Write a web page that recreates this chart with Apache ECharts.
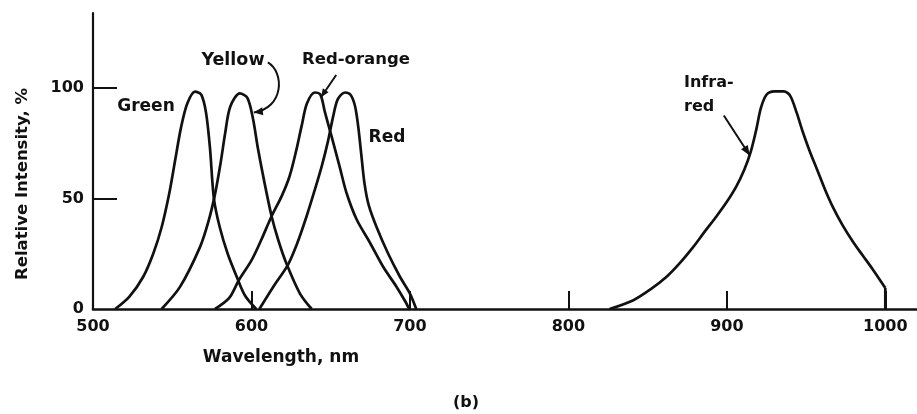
<!DOCTYPE html>
<html>
<head>
<meta charset="utf-8">
<script src="https://cdn.jsdelivr.net/npm/echarts@6/dist/echarts.min.js"></script>
<style>
  html, body { margin: 0; padding: 0; background: #fff; }
  #chart { width: 917px; height: 414px; }
</style>
</head>
<body>
<div id="chart"></div>
<script>
// Emission spectra of LEDs: relative intensity (%) versus wavelength (nm)
const wavelengthTicks = [500, 600, 700, 800, 900, 1000];
const intensityTicks = [0, 50, 100];

const green = [[514, 0], [523, 5.6], [531.7, 14.6], [538, 25], [543.3, 37], [548.3, 53],
  [552, 68], [555.5, 82], [559.5, 93], [564.4, 98.4], [568.3, 97], [571.3, 89],
  [573.8, 73], [576.3, 50], [580, 37], [585, 25], [590.7, 14.6], [596, 6], [603, 0]];

const yellow = [[543.3, 0], [554.9, 10], [567.5, 28], [573, 40], [577, 52], [580.5, 66],
  [583.5, 80], [586.6, 91.6], [592.7, 97.6], [597.5, 95.5], [601, 86], [604, 73],
  [608, 58], [612.7, 42], [617, 31], [622, 20.7], [630.6, 7], [638, 0]];

const redOrange = [[577, 0], [586, 5], [592, 13], [600, 22], [606, 31], [612.7, 42],
  [619, 51], [624, 60], [628, 71], [631.7, 83], [635, 93], [640, 98], [643.5, 97],
  [646.4, 89], [650.6, 78], [655.8, 64], [660, 52.5], [666.4, 40.5], [674.8, 30],
  [683.2, 19], [691.6, 10], [697, 3.5], [699.5, 0]];

const red = [[605, 0], [613.7, 10], [623, 20], [629, 30], [634.8, 42], [640, 54],
  [644.5, 65], [648.3, 76], [651.5, 87], [654.5, 95], [659, 98], [662.5, 97],
  [665.3, 92], [667.3, 83], [669.3, 70], [671.3, 57], [674, 47], [679, 37],
  [686.3, 25], [693.7, 14.6], [700, 7], [704, 0]];

const infrared = [[826, 0], [841, 4], [852, 9], [862, 14.6], [870, 20.5], [878.7, 28],
  [886, 35], [893.5, 42], [900, 48.5], [906, 55.5], [911, 63], [915, 71], [918.5, 81],
  [921.5, 91], [925, 97], [930, 98.5], [936, 98.5], [940, 96.5], [944, 89], [948, 80],
  [952, 72], [957, 63], [962, 54], [967, 46], [973, 38], [980, 30], [986, 24],
  [992, 18], [1000, 9.5]];
const infraredEdge = [[1000, 9.5], [1000, 0]];

const INK = '#111';
const FONT = '"DejaVu Sans", sans-serif';

function curve(name, data, smooth) {
  return {
    name: name, type: 'line', data: data, showSymbol: false, smooth: smooth,
    lineStyle: { color: INK, width: 2.7 }, silent: true, animation: false, z: 3
  };
}

const chart = echarts.init(document.getElementById('chart'), null, { renderer: 'canvas' });

chart.setOption({
  animation: false,
  backgroundColor: '#fff',
  grid: { left: 93, right: 0, top: 13, bottom: 105 },
  xAxis: {
    type: 'value', min: 500, max: 1020, interval: 100,
    axisLine: { lineStyle: { color: INK, width: 2.6 } },
    axisTick: { inside: true, length: 18, customValues: wavelengthTicks.slice(1),
      lineStyle: { color: INK, width: 2 } },
    axisLabel: { customValues: wavelengthTicks, margin: 10, color: INK,
      fontFamily: FONT, fontWeight: 'bold', fontSize: 16,
      formatter: function (v) { return String(v); } },
    splitLine: { show: false }
  },
  yAxis: {
    type: 'value', min: 0, max: 134, interval: 50,
    axisLine: { show: true, lineStyle: { color: INK, width: 2.2 } },
    axisTick: { show: true, inside: true, length: 24, customValues: [50, 100],
      lineStyle: { color: INK, width: 2 } },
    axisLabel: { customValues: intensityTicks, margin: 9, color: INK,
      fontFamily: FONT, fontWeight: 'bold', fontSize: 16,
      formatter: function (v) { return String(v); } },
    splitLine: { show: false }
  },
  series: [
    curve('Green', green, 0.3),
    curve('Yellow', yellow, 0.3),
    curve('Red-orange', redOrange, 0.3),
    curve('Red', red, 0.3),
    curve('Infrared', infrared, 0.3),
    curve('Infrared edge', infraredEdge, false)
  ]
});

// Curve captions, axis titles and pointer arrows
function px(p) { return chart.convertToPixel({ gridIndex: 0 }, p); }

function arrowHead(tip, from, len, half) {
  const dx = tip[0] - from[0], dy = tip[1] - from[1];
  const d = Math.hypot(dx, dy) || 1;
  const ux = dx / d, uy = dy / d;
  const bx = tip[0] - ux * len, by = tip[1] - uy * len;
  return {
    type: 'polygon', silent: true, z: 10,
    shape: { points: [[tip[0], tip[1]], [bx - uy * half, by + ux * half], [bx + uy * half, by - ux * half]] },
    style: { fill: INK }
  };
}

function label(text, x, y, size, align, rotation) {
  return {
    type: 'text', silent: true, z: 10, x: x, y: y, rotation: rotation || 0,
    style: { text: text, fill: INK, font: 'bold ' + size + 'px ' + FONT,
      align: align || 'center', verticalAlign: 'middle' }
  };
}

const yTip = px([601.5, 89]);
const yTail = [yTip[0] + 14, yTip[1] - 50];
const yCp1 = [yTip[0] + 31, yTip[1] - 40];
const yCp2 = [yTip[0] + 30, yTip[1] - 4];

const roTip = px([644, 96]);
const roTail = [roTip[0] + 15, roTip[1] - 22];

const irTip = px([914.5, 69.5]);
const irTail = [irTip[0] - 26, irTip[1] - 40];

const stroke = { stroke: INK, lineWidth: 2, fill: null };

chart.setOption({
  graphic: [
    label('Relative Intensity, %', 23, 184, 16.5, 'center', Math.PI / 2),
    label('Wavelength, nm', 281, 358, 17),
    label('(b)', 466, 403, 16),
    label('Green', 146, 107, 17),
    label('Yellow', 233, 60, 17.5),
    label('Red-orange', 356, 60, 16.5),
    label('Red', 387, 138, 17),
    label('Infra-', 684, 83, 16, 'left'),
    label('red', 684, 107, 16, 'left'),
    {
      type: 'bezierCurve', silent: true, z: 10,
      shape: { x1: yTail[0], y1: yTail[1], cpx1: yCp1[0], cpy1: yCp1[1],
        cpx2: yCp2[0], cpy2: yCp2[1], x2: yTip[0], y2: yTip[1] },
      style: stroke
    },
    arrowHead(yTip, yCp2, 9, 4),
    {
      type: 'line', silent: true, z: 10,
      shape: { x1: roTail[0], y1: roTail[1], x2: roTip[0], y2: roTip[1] },
      style: stroke
    },
    arrowHead(roTip, roTail, 8, 3.5),
    {
      type: 'line', silent: true, z: 10,
      shape: { x1: irTail[0], y1: irTail[1], x2: irTip[0], y2: irTip[1] },
      style: stroke
    },
    arrowHead(irTip, irTail, 10, 4)
  ]
});
</script>
</body>
</html>
